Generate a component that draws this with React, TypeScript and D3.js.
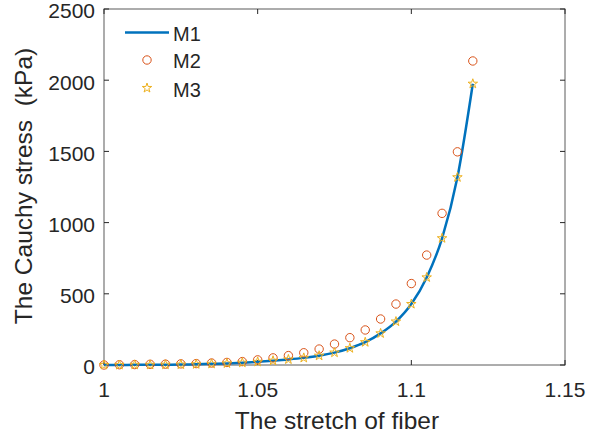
import React, { useEffect, useRef } from "react";
import * as d3 from "d3";

const stretch = [1, 1.005, 1.01, 1.015, 1.02, 1.025, 1.03, 1.035, 1.04, 1.045, 1.05, 1.055, 1.06,
  1.065, 1.07, 1.075, 1.08, 1.085, 1.09, 1.095, 1.1, 1.105, 1.11, 1.115, 1.12];
const m1 = [0, 0, 1, 1, 2, 3, 5, 8, 11, 16, 22, 30, 39, 50, 65, 87, 118, 160, 222, 305, 428, 615, 890, 1318, 1975];
const m2 = [0, 2, 3, 5, 6, 8, 10, 14, 18, 24, 36, 50, 66, 86, 112, 147, 192, 246, 323, 428, 572, 772, 1065, 1497, 2135];
const m3 = [0, 0, 1, 1, 2, 3, 5, 8, 11, 16, 22, 30, 39, 50, 65, 87, 118, 160, 222, 305, 428, 615, 890, 1318, 1975];
const xTicks = [1, 1.05, 1.1, 1.15];
const yTicks = [0, 500, 1000, 1500, 2000, 2500];

const App = () => {
  const ref = useRef<SVGSVGElement>(null);

  useEffect(() => {
    const svg = d3.select(ref.current);
    svg.selectAll("*").remove();
    const left = 104, right = 565, top = 9, bottom = 365;
    const x = d3.scaleLinear().domain([1, 1.15]).range([left, right]);
    const y = d3.scaleLinear().domain([0, 2500]).range([bottom, top]);
    const font = "Liberation Sans, Arial, sans-serif";
    const ink = "#262626";

    // axes box
    svg.append("rect").attr("x", left).attr("y", top).attr("width", right - left).attr("height", bottom - top)
      .attr("fill", "white").attr("stroke", "#5a5a5a").attr("stroke-width", 1);

    const tl = 5;
    xTicks.forEach(t => {
      svg.append("line").attr("x1", x(t)).attr("x2", x(t)).attr("y1", bottom).attr("y2", bottom - tl).attr("stroke", ink);
      svg.append("line").attr("x1", x(t)).attr("x2", x(t)).attr("y1", top).attr("y2", top + tl).attr("stroke", ink);
      svg.append("text").attr("x", x(t)).attr("y", 397).attr("text-anchor", "middle")
        .attr("font-family", font).attr("font-size", 21).attr("fill", ink).text(String(t));
    });
    yTicks.forEach(t => {
      svg.append("line").attr("x1", left).attr("x2", left + tl).attr("y1", y(t)).attr("y2", y(t)).attr("stroke", ink);
      svg.append("line").attr("x1", right).attr("x2", right - tl).attr("y1", y(t)).attr("y2", y(t)).attr("stroke", ink);
      svg.append("text").attr("x", 95).attr("y", y(t) + 9.3).attr("text-anchor", "end")
        .attr("font-family", font).attr("font-size", 21).attr("fill", ink).text(String(t));
    });

    svg.append("text").attr("x", 337).attr("y", 429).attr("text-anchor", "middle")
      .attr("font-family", font).attr("font-size", 24.5).attr("fill", ink)
      .text("The stretch of fiber");
    svg.append("text").attr("transform", `translate(32,186) rotate(-90)`)
      .attr("text-anchor", "middle").attr("font-family", font)
      .attr("font-size", 24.5).attr("fill", ink).attr("xml:space", "preserve").text("The Cauchy stress  (kPa)");

    const line = d3.line<number>().x((d, i) => x(stretch[i])).y(d => y(d)).curve(d3.curveMonotoneX);
    svg.append("path").attr("d", line(m1)).attr("fill", "none").attr("stroke", "#0072BD").attr("stroke-width", 2.5);

    svg.selectAll(".m2").data(m2).join("circle").attr("class", "m2")
      .attr("cx", (d, i) => x(stretch[i])).attr("cy", d => y(d)).attr("r", 4.2)
      .attr("fill", "none").attr("stroke", "#D95319").attr("stroke-width", 1);

    const star = d3.symbol().type(d3.symbolStar).size(28);
    svg.selectAll(".m3").data(m3).join("path").attr("class", "m3")
      .attr("transform", (d, i) => `translate(${x(stretch[i])},${y(d)})`).attr("d", star())
      .attr("fill", "none").attr("stroke", "#EDB120").attr("stroke-width", 1);

    // legend
    svg.append("line").attr("x1", 125).attr("x2", 169).attr("y1", 32.5).attr("y2", 32.5)
      .attr("stroke", "#0072BD").attr("stroke-width", 2.5);
    svg.append("circle").attr("cx", 147).attr("cy", 60).attr("r", 4.2).attr("fill", "none")
      .attr("stroke", "#D95319").attr("stroke-width", 1);
    svg.append("path").attr("transform", "translate(147,88)").attr("d", star()).attr("fill", "none")
      .attr("stroke", "#EDB120").attr("stroke-width", 1);
    ["M1", "M2", "M3"].forEach((s, i) => {
      svg.append("text").attr("x", 173).attr("y", [40.5, 68, 96.5][i])
        .attr("font-family", font).attr("font-size", 20).attr("fill", ink).text(s);
    });
  }, []);

  return <svg ref={ref} width={603} height={440} style={{ position: "absolute", left: 0, top: 0, background: "white" }} />;
};

export default App;
